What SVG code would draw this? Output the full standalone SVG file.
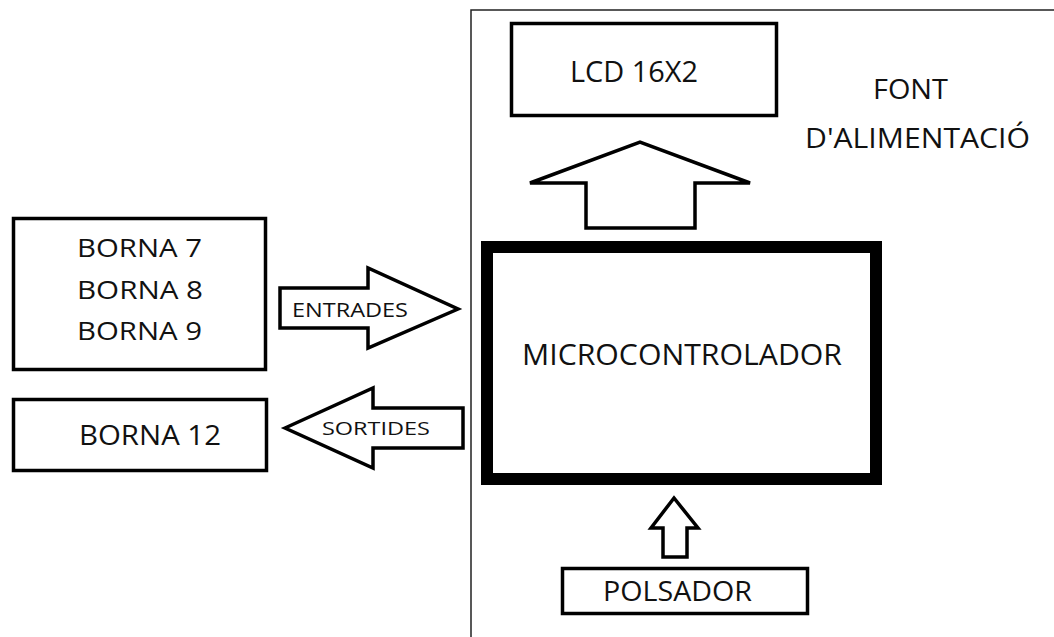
<svg xmlns="http://www.w3.org/2000/svg" width="1054" height="637" viewBox="0 0 1054 637">
<style>
.box{fill:#fff;stroke:#000;stroke-width:3.5}
.thick{fill:#fff;stroke:#000;stroke-width:12}
.frame{fill:none;stroke:#222;stroke-width:1.5}
.arr{fill:#fff;stroke:#000;stroke-width:3.5;stroke-linejoin:miter}
.t{font-family:"Open Sans","Liberation Sans",sans-serif;fill:#111}
</style>
<rect width="1054" height="637" fill="#fff"/>
<g id="font-alimentacio">
<rect class="frame" x="471" y="10" width="700" height="700"/>
<text class="t" x="873" y="99" font-size="27" textLength="75" lengthAdjust="spacingAndGlyphs">FONT</text>
<text class="t" x="805" y="148" font-size="27" textLength="225" lengthAdjust="spacingAndGlyphs">D'ALIMENTACIÓ</text>
</g>
<g id="lcd">
<rect class="box" x="511.5" y="23.5" width="265" height="92"/>
<text class="t" x="570" y="82" font-size="30" textLength="128" lengthAdjust="spacingAndGlyphs">LCD 16X2</text>
</g>
<g id="microcontrolador">
<rect class="thick" x="487" y="247" width="389" height="232"/>
<text class="t" x="522" y="365" font-size="30" textLength="320" lengthAdjust="spacingAndGlyphs">MICROCONTROLADOR</text>
</g>
<g id="bornes-entrada">
<rect class="box" x="13.5" y="218.5" width="252" height="151"/>
<text class="t" x="77" y="257" font-size="26" textLength="125" lengthAdjust="spacingAndGlyphs">BORNA 7</text>
<text class="t" x="77" y="299" font-size="26" textLength="126" lengthAdjust="spacingAndGlyphs">BORNA 8</text>
<text class="t" x="77" y="340" font-size="26" textLength="125" lengthAdjust="spacingAndGlyphs">BORNA 9</text>
</g>
<g id="borna-12">
<rect class="box" x="13.5" y="399.5" width="253" height="71"/>
<text class="t" x="79" y="445" font-size="27" textLength="142" lengthAdjust="spacingAndGlyphs">BORNA 12</text>
</g>
<g id="polsador">
<rect class="box" x="562.5" y="568.5" width="245" height="45"/>
<text class="t" x="603" y="601" font-size="27" textLength="149" lengthAdjust="spacingAndGlyphs">POLSADOR</text>
</g>
<g id="connectors">
<polygon class="arr" points="586,228 586,183 530,183 640,142 750,183 695,183 695,228"/>
<polygon class="arr" points="280,288 368,288 368,268 458,309 368,348 368,328 280,328"/>
<text class="t" x="292" y="317" font-size="20" textLength="116" lengthAdjust="spacingAndGlyphs">ENTRADES</text>
<polygon class="arr" points="285,428 373,388 373,408 463,408 463,448 373,448 373,468"/>
<text class="t" x="322" y="435" font-size="19" textLength="108" lengthAdjust="spacingAndGlyphs">SORTIDES</text>
<polygon class="arr" points="663,557 663,528 651,528 674,498 698,528 687,528 687,557"/>
</g>
</svg>
